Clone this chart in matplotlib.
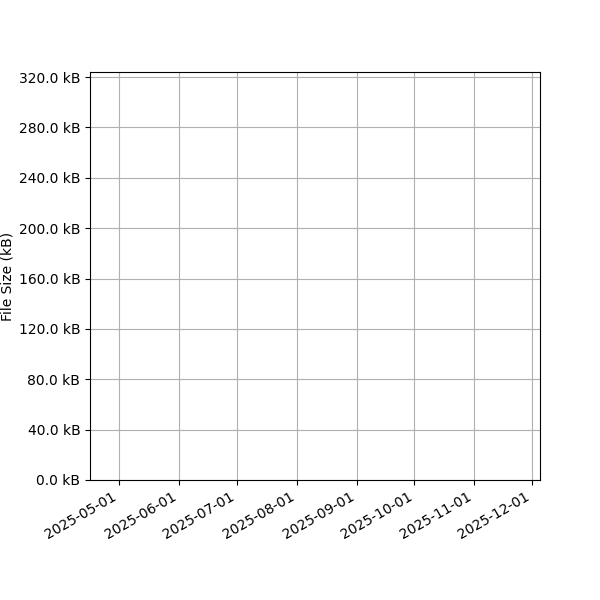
import datetime as dt
import matplotlib
matplotlib.use("Agg")
import matplotlib.pyplot as plt
import matplotlib.dates as mdates
from matplotlib.ticker import FuncFormatter, MultipleLocator

# no records in the reference: the plot is empty
dates = []
sizes_bytes = []

x_start = dt.datetime(2025, 4, 16)
x_end = dt.datetime(2025, 12, 5)
y_max = 324000

fig, ax = plt.subplots(figsize=(6, 6), dpi=100)
ax.plot(dates, sizes_bytes)

ax.set_xlim(x_start, x_end)
ax.set_ylim(0, y_max)
ax.xaxis.set_major_locator(mdates.MonthLocator())
ax.xaxis.set_major_formatter(mdates.DateFormatter("%Y-%m-%d"))
ax.yaxis.set_major_locator(MultipleLocator(40000))
ax.yaxis.set_major_formatter(FuncFormatter(lambda v, p: f"{v / 1000:.1f} kB"))

ax.set_ylabel("File Size (kB)")
ax.yaxis.set_label_coords(-0.168, 0.5)
ax.grid(True)
fig.autofmt_xdate()
fig.subplots_adjust(left=0.15, right=0.9, top=0.88, bottom=0.2)

fig.savefig("out.png")
